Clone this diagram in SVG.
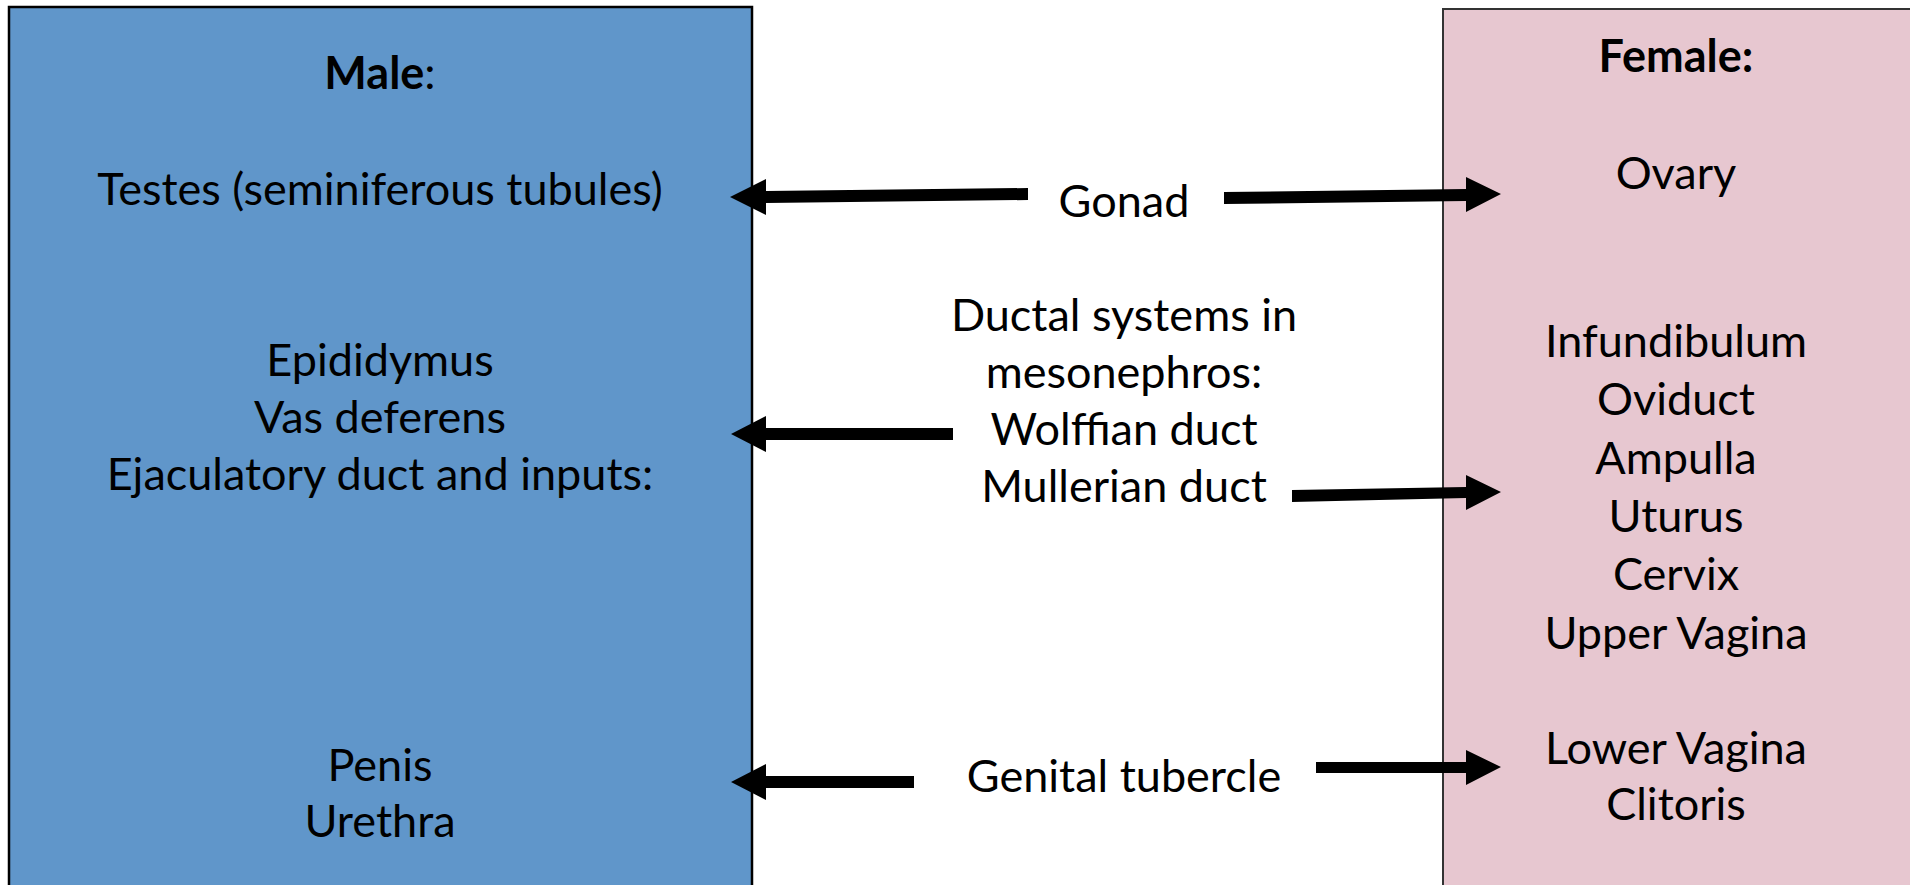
<svg xmlns="http://www.w3.org/2000/svg" width="1910" height="885" viewBox="0 0 1910 885">
<style>
.t{font-family:Lato,"Open Sans","Liberation Sans",sans-serif;font-size:45px;fill:#000;text-anchor:middle}
.b{font-weight:bold}
.arr{fill:#000}
</style>
<rect width="1910" height="885" fill="#fff"/>
<g id="male">
<rect x="9" y="7" width="743" height="900" fill="#6096CA" stroke="#000" stroke-width="2.5"/>
<text class="t b" x="380" y="89">Male<tspan font-weight="normal">:</tspan></text>
<text class="t" x="380" y="205">Testes (seminiferous tubules)</text>
<text class="t" x="380" y="376">Epididymus</text>
<text class="t" x="380" y="433">Vas deferens</text>
<text class="t" x="380" y="490">Ejaculatory duct and inputs:</text>
<text class="t" x="380" y="781">Penis</text>
<text class="t" x="380" y="837">Urethra</text>
</g>
<g id="female">
<rect x="1443" y="9" width="500" height="900" fill="#E7C7D0" stroke="#333" stroke-width="2"/>
<text class="t b" x="1676" y="72">Female:</text>
<text class="t" x="1676" y="189">Ovary</text>
<text class="t" x="1676" y="357">Infundibulum</text>
<text class="t" x="1676" y="415">Oviduct</text>
<text class="t" x="1676" y="474">Ampulla</text>
<text class="t" x="1676" y="532">Uturus</text>
<text class="t" x="1676" y="590">Cervix</text>
<text class="t" x="1676" y="649">Upper Vagina</text>
<text class="t" x="1676" y="764">Lower Vagina</text>
<text class="t" x="1676" y="820">Clitoris</text>
</g>
<g id="gonad">
<text class="t" x="1124" y="217">Gonad</text>
</g>
<g id="ductal">
<text class="t" x="1124" y="331">Ductal systems in</text>
<text class="t" x="1124" y="388">mesonephros:</text>
<text class="t" x="1124" y="445">Wolffian duct</text>
<text class="t" x="1124" y="502">Mullerian duct</text>
</g>
<g id="genital">
<text class="t" x="1124" y="792">Genital tubercle</text>
</g>
<g id="connectors" class="arr">
<polygon points="1028,188 766,191 766,179 730,197 766,215 766,203 1028,200"/>
<polygon points="1224,192 1466,189 1466,177 1501,194 1466,212 1466,201 1224,204"/>
<polygon points="953,428 766,428 766,416 731,434 766,452 766,440 953,440"/>
<polygon points="1292,490 1466,487 1466,475 1501,492 1466,510 1466,498 1292,502"/>
<polygon points="914,776 766,776 766,764 731,782 766,800 766,788 914,788"/>
<polygon points="1316,762 1466,762 1466,750 1501,767 1466,785 1466,773 1316,773"/>
</g>
</svg>
